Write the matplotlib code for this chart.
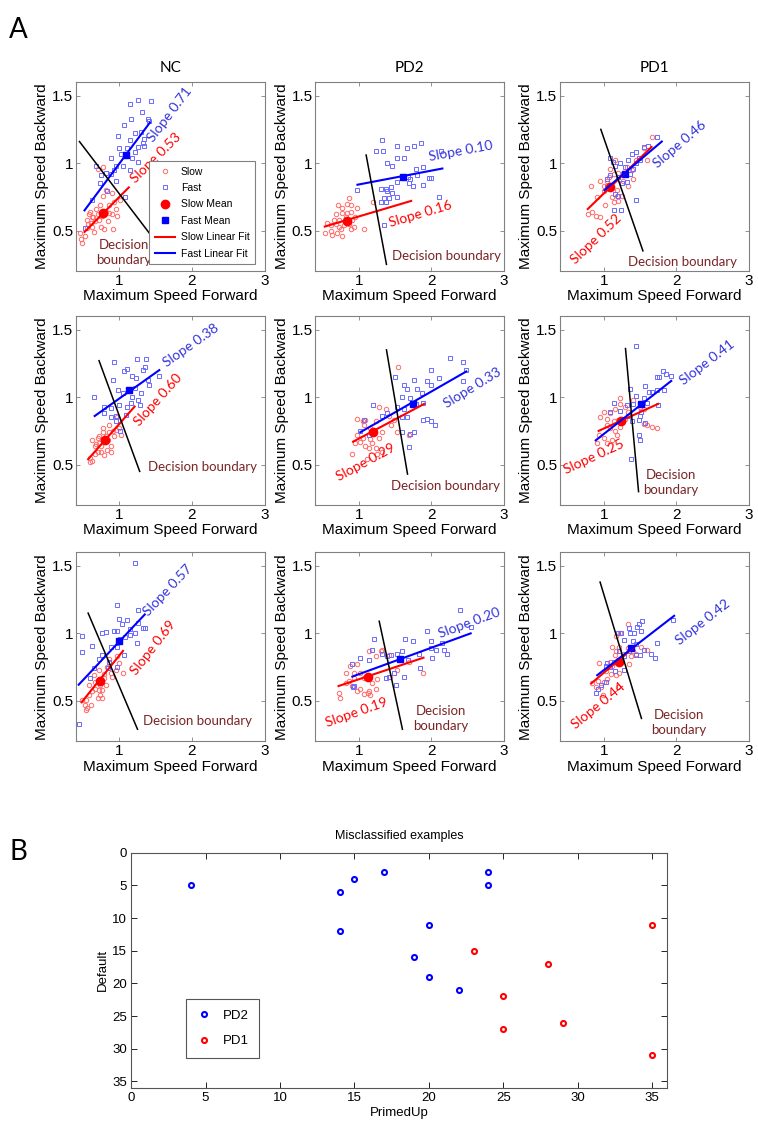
import numpy as np
import matplotlib
matplotlib.use('Agg')
import matplotlib.pyplot as plt

# ---------------- panel A data (row-major: NC, PD2, PD1 per row) ----------------
groups = ['NC', 'PD2', 'PD1']

slow_pts = [
    [(0.47,0.44),(0.49,0.41),(0.52,0.46),(0.46,0.48),(0.55,0.52),(0.57,0.55),(0.61,0.56),(0.63,0.60),(0.62,0.53),(0.65,0.49),
     (0.67,0.57),(0.72,0.58),(0.76,0.61),(0.81,0.64),(0.86,0.63),(0.90,0.62),(0.97,0.61),(0.91,0.51),(0.79,0.51),(0.70,0.62),
     (0.58,0.62),(0.64,0.60),(0.73,0.69),(0.78,0.76),(0.82,0.80),(0.86,0.69),(0.92,0.71),(1.01,0.73),(0.90,0.78),(0.77,0.97),
     (0.70,0.96),(0.55,0.58),(0.60,0.64),(0.68,0.66),(0.84,0.57),(0.75,0.53),(0.95,0.66)],
    [(0.53,0.48),(0.61,0.50),(0.63,0.47),(0.70,0.48),(0.75,0.51),(0.79,0.54),(0.86,0.55),(0.89,0.51),(0.93,0.53),(0.68,0.55),
     (0.72,0.58),(0.82,0.60),(0.89,0.64),(0.98,0.67),(0.84,0.70),(0.69,0.62),(0.66,0.58),(0.77,0.67),(0.86,0.74),(0.71,0.69),
     (0.89,0.69),(1.07,0.51),(1.20,0.71),(0.56,0.56),(0.61,0.54),(0.77,0.46),(0.95,0.60),(0.84,0.63),(0.77,0.63),(0.91,0.58),
     (0.72,0.53)],
    [(0.78,0.62),(0.84,0.64),(0.89,0.61),(0.95,0.60),(0.83,0.83),(0.95,0.87),(1.00,0.83),(1.07,0.90),(1.14,0.92),(1.16,1.02),
     (1.09,0.96),(1.02,0.69),(1.14,0.71),(1.20,0.72),(1.25,0.76),(1.34,0.83),(1.41,0.88),(1.39,0.95),(1.45,1.02),(1.55,1.11),
     (1.66,1.19),(1.59,1.02),(1.00,0.79),(0.91,0.75),(1.18,0.80),(1.27,0.87),(1.05,0.87),(1.20,0.93),(1.32,0.97),(1.11,0.75),
     (1.18,0.76)],
    [(0.59,0.55),(0.63,0.53),(0.60,0.52),(0.66,0.58),(0.70,0.59),(0.75,0.64),(0.68,0.65),(0.63,0.68),(0.72,0.71),(0.78,0.74),
     (0.82,0.71),(0.86,0.74),(0.91,0.75),(0.95,0.76),(1.00,0.77),(0.89,0.59),(0.83,0.61),(0.75,0.59),(0.79,0.57),(0.70,0.70),
     (0.78,0.69),(0.84,0.68),(0.86,0.79),(0.77,0.77),(0.93,0.71),(0.97,0.85),(1.02,0.72),(0.66,0.64),(0.72,0.66),(0.89,0.64)],
    [(0.91,0.58),(0.98,0.72),(1.05,0.70),(0.95,0.66),(1.02,0.67),(1.09,0.64),(1.14,0.62),(1.18,0.66),(1.23,0.62),(1.25,0.58),
     (1.11,0.54),(1.32,0.59),(0.98,0.84),(1.05,0.82),(1.09,0.83),(1.07,0.79),(1.16,0.77),(1.28,0.93),(1.37,0.91),(1.41,0.86),
     (1.48,0.83),(1.53,0.74),(1.54,1.22),(1.69,0.72),(1.32,0.74),(1.23,0.82),(1.44,0.79),(1.16,0.69),(1.28,0.70)],
    [(0.95,0.85),(1.00,0.89),(1.05,0.84),(1.09,0.88),(1.16,0.91),(1.23,0.95),(1.30,0.93),(1.34,0.89),(1.23,0.99),(1.41,0.98),
     (1.50,0.93),(1.55,0.91),(0.93,0.72),(1.00,0.70),(1.05,0.66),(1.11,0.68),(1.18,0.72),(1.23,0.78),(1.09,0.77),(1.16,0.75),
     (1.30,0.84),(1.20,0.83),(1.59,0.79),(1.66,0.78),(1.73,0.77),(1.55,0.80),(1.14,0.82),(1.05,0.79),(0.91,0.66)],
    [(0.49,0.51),(0.52,0.47),(0.54,0.43),(0.56,0.45),(0.61,0.47),(0.54,0.51),(0.58,0.54),(0.63,0.57),(0.67,0.59),(0.72,0.58),
     (0.76,0.58),(0.74,0.54),(0.70,0.52),(0.76,0.52),(0.67,0.64),(0.65,0.69),(0.72,0.73),(0.79,0.70),(0.83,0.75),(0.88,0.71),
     (0.95,0.73),(0.99,0.78),(1.05,0.71),(0.81,0.62),(0.90,0.68),(0.86,0.81),(0.97,0.83),(0.79,0.67),(0.58,0.62),(0.74,0.62)],
    [(0.72,0.56),(0.74,0.52),(0.82,0.63),(0.86,0.65),(0.82,0.71),(0.88,0.76),(0.93,0.71),(0.98,0.57),(1.02,0.59),(1.07,0.55),
     (1.12,0.56),(1.14,0.57),(1.16,0.54),(1.23,0.59),(1.18,0.63),(1.25,0.66),(1.07,0.67),(0.98,0.77),(1.02,0.71),(1.14,0.87),
     (1.23,0.83),(1.30,0.87),(1.32,0.88),(1.41,0.84),(1.43,0.68),(1.53,0.73),(1.69,0.79),(1.88,0.71),(0.91,0.61),(0.93,0.67)],
    [(0.84,0.63),(0.90,0.60),(0.94,0.78),(0.92,0.65),(0.96,0.60),(1.01,0.64),(1.05,0.66),(1.10,0.70),(1.17,0.69),(1.21,0.71),
     (0.99,0.54),(1.03,0.72),(1.12,0.76),(1.08,0.79),(1.15,0.84),(1.17,0.87),(1.21,0.90),(1.12,0.90),(1.17,0.98),(1.23,1.00),
     (1.33,1.07),(1.27,0.85),(1.33,0.89),(1.37,0.83),(1.40,0.87),(1.44,0.85),(1.51,0.90),(1.60,0.88),(1.35,0.77),(1.24,0.81),
     (1.19,0.60)],
]

fast_pts = [
    [(1.26,1.47),(1.44,1.46),(1.14,1.44),(1.31,1.38),(1.41,1.31),(1.16,1.33),(1.07,1.28),(1.30,1.23),(1.21,1.22),(0.98,1.20),
     (1.34,1.18),(1.00,1.11),(1.11,1.11),(1.25,1.12),(1.34,1.13),(1.02,1.07),(1.18,1.04),(0.89,1.04),(0.95,0.98),(1.05,0.98),
     (1.14,0.95),(1.25,1.01),(0.68,0.98),(0.82,0.93),(0.74,0.85),(0.83,0.79),(0.95,0.87),(1.08,0.75),(0.52,0.52),(0.63,0.73),
     (0.88,0.92),(0.93,0.95),(0.75,0.91),(1.32,1.15),(1.39,1.33),(1.14,1.17),(1.21,1.08)],
    [(1.32,1.17),(1.23,1.09),(1.33,1.09),(1.53,1.13),(1.66,1.11),(1.76,1.13),(1.86,1.15),(1.62,1.04),(1.39,1.00),(1.46,0.98),
     (1.78,0.96),(1.89,0.97),(1.80,0.91),(1.96,0.89),(2.00,0.89),(1.89,0.84),(1.74,0.83),(1.69,0.85),(1.53,0.86),(1.44,0.82),
     (1.37,0.81),(1.30,0.81),(0.98,0.80),(1.39,0.79),(1.46,0.78),(1.53,0.75),(1.41,0.74),(1.34,0.74),(1.38,0.71),(1.31,0.71),
     (2.10,0.75),(1.34,0.54),(1.67,0.90),(1.71,0.88),(1.60,0.90),(2.13,1.09),(1.53,1.04)],
    [(1.09,1.04),(1.13,1.01),(1.16,0.98),(1.23,1.00),(1.34,1.02),(1.39,1.07),(1.45,1.08),(1.48,1.04),(1.55,1.12),(1.61,1.13),
     (1.74,1.19),(1.04,0.88),(1.09,0.91),(1.20,0.90),(1.27,0.92),(1.36,0.92),(1.45,1.00),(1.16,0.77),(1.20,0.76),(1.14,0.65),
     (1.24,0.65),(1.45,0.73),(1.25,0.85),(1.32,0.86),(1.05,0.82),(1.41,0.96),(1.50,1.02),(1.30,0.97)],
    [(0.65,1.00),(0.92,1.26),(1.07,1.19),(1.10,1.21),(1.24,1.28),(1.37,1.28),(1.32,1.20),(1.35,1.22),(1.18,1.16),(1.23,1.14),
     (1.39,1.13),(1.41,1.09),(0.91,1.13),(1.55,1.16),(0.98,1.05),(1.05,1.03),(1.18,1.00),(1.25,0.98),(1.16,0.96),(1.11,0.93),
     (1.00,0.94),(0.88,0.92),(0.95,0.86),(0.89,0.85),(0.79,0.93),(0.79,0.88),(1.09,0.87),(1.01,0.75),(0.95,0.82),(1.30,1.03),
     (1.21,1.07),(1.28,0.94)],
    [(2.25,1.29),(2.44,1.26),(2.48,1.20),(2.00,1.20),(2.11,1.14),(1.94,1.12),(2.00,1.09),(1.76,1.13),(1.62,1.09),(1.50,1.15),
     (1.66,1.06),(1.80,1.06),(1.87,1.03),(1.89,0.96),(1.79,0.95),(1.70,0.99),(1.60,1.00),(1.53,0.93),(1.62,0.91),(1.66,0.85),
     (1.59,0.85),(1.89,0.83),(1.94,0.84),(2.00,0.82),(2.05,0.79),(1.69,0.63),(1.60,0.74),(1.71,0.73),(1.76,0.74),(1.32,0.86),
     (1.39,0.88),(1.07,0.83),(1.02,0.75),(1.14,0.72),(1.20,0.94),(2.44,1.12)],
    [(1.45,1.38),(1.73,1.15),(1.76,1.15),(1.82,1.19),(1.86,1.17),(1.93,1.16),(1.57,1.08),(1.63,1.04),(1.66,1.04),(1.73,1.05),
     (1.83,1.05),(1.36,1.06),(1.45,1.01),(1.55,0.99),(1.59,0.96),(1.75,0.94),(1.41,0.95),(1.50,0.86),(1.52,0.89),(1.32,0.94),
     (1.14,0.96),(1.23,0.90),(1.48,0.72),(1.50,0.68),(1.37,0.54),(1.57,0.81),(1.09,0.89),(1.34,0.86),(1.39,0.82),(1.48,0.83)],
    [(0.44,0.33),(1.22,1.52),(0.97,1.21),(0.48,0.98),(0.49,0.86),(0.63,0.91),(0.76,1.00),(0.81,1.01),(0.92,1.02),(0.97,1.02),
     (0.99,1.11),(1.04,1.07),(1.10,1.10),(1.15,1.03),(1.22,1.00),(1.26,1.17),(1.26,1.08),(1.32,1.04),(1.36,1.04),(1.24,0.93),
     (1.08,0.97),(1.01,0.96),(0.97,0.90),(0.88,0.90),(0.76,0.84),(0.72,0.81),(0.86,0.79),(0.97,0.75),(0.85,0.74),(1.06,0.84),
     (0.65,0.74),(0.59,0.67),(1.15,0.99)],
    [(2.39,1.17),(2.55,1.05),(1.94,1.02),(1.99,0.94),(2.00,0.89),(2.06,0.88),(2.17,0.88),(2.14,0.93),(2.21,0.85),(2.01,0.82),
     (1.83,0.85),(1.75,0.94),(1.63,0.96),(1.60,0.87),(1.44,0.84),(1.39,0.83),(1.32,0.85),(1.21,0.96),(1.18,0.88),(1.14,0.80),
     (1.02,0.82),(0.91,0.77),(0.93,0.61),(0.92,0.60),(1.41,0.68),(1.48,0.71),(1.51,0.62),(1.62,0.68),(1.37,0.67),(1.84,0.74),
     (1.67,0.80),(1.53,0.85)],
    [(0.90,0.56),(0.92,0.59),(0.96,0.62),(1.03,0.76),(1.08,0.75),(1.05,0.78),(1.14,0.79),(1.15,0.72),(1.20,1.00),(1.24,1.00),
     (1.28,0.95),(1.28,0.83),(1.35,1.04),(1.36,1.00),(1.42,1.00),(1.46,1.05),(1.49,1.07),(1.53,1.09),(1.51,1.02),(1.40,0.94),
     (1.44,0.92),(1.55,0.88),(1.65,0.85),(1.71,0.82),(1.74,0.93),(1.50,0.84),(1.44,0.84),(1.35,0.87),(1.28,0.73),(1.21,0.87),
     (1.96,1.10),(1.03,0.64)],
]

slow_mean = [(0.77,0.63),(0.83,0.57),(1.09,0.82),(0.80,0.68),(1.20,0.74),(1.24,0.82),(0.73,0.65),(1.12,0.68),(1.21,0.79)]
fast_mean = [(1.09,1.06),(1.61,0.90),(1.30,0.92),(1.13,1.05),(1.75,0.95),(1.52,0.95),(0.99,0.94),(1.56,0.81),(1.37,0.89)]

# fit line end points (x0, y0, x1, y1)
slow_fit = [(0.52,0.49,1.13,0.82),(0.53,0.53,1.72,0.72),(0.78,0.66,1.66,1.12),(0.57,0.54,1.21,0.93),(0.92,0.67,1.90,0.95),
            (0.93,0.75,1.75,0.95),(0.48,0.49,1.05,0.87),(0.72,0.61,1.89,0.82),(0.83,0.63,1.42,0.90)]
fast_fit = [(0.52,0.65,1.42,1.30),(0.98,0.84,2.15,0.96),(1.01,0.80,1.80,1.16),(0.66,0.86,1.55,1.20),(1.02,0.74,2.48,1.19),
            (0.89,0.68,1.93,1.12),(0.44,0.62,1.35,1.14),(0.91,0.68,2.54,1.00),(0.91,0.69,1.97,1.13)]
boundary = [(0.45,1.16,1.50,0.42),(1.10,1.06,1.38,0.25),(0.96,1.25,1.54,0.35),(0.72,1.27,1.28,0.45),(1.38,1.35,1.67,0.43),
            (1.30,1.36,1.48,0.30),(0.57,1.15,1.25,0.29),(1.28,1.09,1.60,0.29),(0.95,1.38,1.52,0.37)]

slow_slope = [0.53, 0.16, 0.52, 0.60, 0.29, 0.25, 0.69, 0.19, 0.44]
fast_slope = [0.71, 0.10, 0.46, 0.38, 0.33, 0.41, 0.57, 0.20, 0.42]

# annotation placement
slow_lbl = [(1.50,1.04),(1.85,0.62),(0.89,0.44),(1.53,0.98),(1.09,0.52),(0.86,0.56),(1.47,0.89),(0.97,0.41),(0.92,0.46)]
fast_lbl = [(1.69,1.36),(2.40,1.09),(2.05,1.14),(1.99,1.38),(2.56,1.07),(2.43,1.26),(1.67,1.32),(2.52,1.08),(2.37,1.08)]
db_lbl = [(1.06,0.34),(2.21,0.31),(2.09,0.27),(2.15,0.48),(2.19,0.34),(1.93,0.37),(2.08,0.35),(2.13,0.37),(2.03,0.34)]
db_two = [True, False, False, False, False, True, False, True, True]

# ---------------- panel B data ----------------
pd2_x = [4, 14, 14, 15, 17, 19, 20, 20, 22, 24, 24]
pd2_y = [5, 6, 12, 4, 3, 16, 11, 19, 21, 3, 5]
pd1_x = [23, 25, 25, 28, 29, 35, 35]
pd1_y = [15, 22, 27, 17, 26, 11, 31]

arial = ['Liberation Sans', 'DejaVu Sans']
calibri = ['Lato', 'DejaVu Sans']
narrow = ['Liberation Sans Narrow', 'Liberation Sans', 'DejaVu Sans']
red = '#ff0000'
blue = '#0000ff'
light_red = '#ff6a6a'
light_blue = '#6a6aff'
db_color = '#7a2525'
spine = '#808080'

fig = plt.figure(figsize=(7.58, 11.25), dpi=100)

col_left = [0.100, 0.416, 0.739]
row_bot = [0.759, 0.551, 0.341]
w, h = 0.249, 0.168

for i in range(9):
    r, c = divmod(i, 3)
    ax = fig.add_axes([col_left[c], row_bot[r], w, h])
    sx, sy = zip(*slow_pts[i])
    fx, fy = zip(*fast_pts[i])
    ax.plot(sx, sy, 'o', ms=3.2, mfc='none', mec=light_red, mew=0.7, label='Slow')
    ax.plot(fx, fy, 's', ms=3.2, mfc='none', mec=light_blue, mew=0.7, label='Fast')
    ax.plot(*slow_mean[i], 'o', ms=6, color=red, label='Slow Mean')
    ax.plot(*fast_mean[i], 's', ms=5, color=blue, label='Fast Mean')
    x0, y0, x1, y1 = slow_fit[i]
    ax.plot([x0, x1], [y0, y1], '-', color=red, lw=1.5, label='Slow Linear Fit')
    x0, y0, x1, y1 = fast_fit[i]
    ax.plot([x0, x1], [y0, y1], '-', color=blue, lw=1.5, label='Fast Linear Fit')
    x0, y0, x1, y1 = boundary[i]
    ax.plot([x0, x1], [y0, y1], '-', color='black', lw=1.1)

    ax.text(*slow_lbl[i], 'Slope %.2f' % slow_slope[i], color=red, fontsize=10, family=calibri,
            rotation=np.degrees(np.arctan(slow_slope[i])), transform_rotates_text=True,
            rotation_mode='anchor', ha='center', va='center')
    ax.text(*fast_lbl[i], 'Slope %.2f' % fast_slope[i], color='#3333dd', fontsize=10, family=calibri,
            rotation=np.degrees(np.arctan(fast_slope[i])), transform_rotates_text=True,
            rotation_mode='anchor', ha='center', va='center')
    ax.text(*db_lbl[i], 'Decision\nboundary' if db_two[i] else 'Decision boundary', color=db_color,
            fontsize=9.5, family=calibri, ha='center', va='center', linespacing=1.3)

    ax.set_xlim(0.4, 3)
    ax.set_ylim(0.2, 1.6)
    ax.set_xticks([1, 2, 3])
    ax.set_yticks([0.5, 1, 1.5])
    ax.set_yticklabels(['0.5', '1', '1.5'])
    ax.tick_params(direction='in', top=True, right=True, length=3, width=0.6, color=spine,
                   labelsize=11, pad=2)
    for lab in ax.get_xticklabels() + ax.get_yticklabels():
        lab.set_family(arial)
    for s in ax.spines.values():
        s.set_color(spine)
        s.set_linewidth(0.8)
    ax.set_xlabel('Maximum Speed Forward', fontsize=11, family=arial, labelpad=1)
    ax.set_ylabel('Maximum Speed Backward', fontsize=11, family=arial, labelpad=2)
    if r == 0:
        ax.set_title(groups[c], fontsize=11, family=calibri, pad=7)
    if i == 0:
        leg = ax.legend(loc='lower right', bbox_to_anchor=(0.975, 0.01),
                        prop={'family': arial, 'size': 7.5}, fancybox=False, edgecolor=spine,
                        handlelength=2.0, labelspacing=0.62, borderpad=0.5, handletextpad=0.5,
                        framealpha=1)
        leg.get_frame().set_linewidth(0.8)

fig.text(0.012, 0.985, 'A', fontsize=20, family=calibri, va='top')
fig.text(0.012, 0.254, 'B', fontsize=20, family=calibri, va='top')

# ---------------- panel B ----------------
axb = fig.add_axes([0.173, 0.033, 0.707, 0.209])
axb.plot(pd2_x, pd2_y, 'o', ms=3.6, mfc='none', mec=blue, mew=1.5, label='PD2')
axb.plot(pd1_x, pd1_y, 'o', ms=3.6, mfc='none', mec=red, mew=1.5, label='PD1')
axb.set_xlim(0, 36)
axb.set_ylim(36, 0)
axb.set_xticks(range(0, 40, 5))
axb.set_yticks(range(0, 40, 5))
axb.tick_params(direction='in', top=True, right=True, length=4, width=0.6, labelsize=9.5, pad=3)
for lab in axb.get_xticklabels() + axb.get_yticklabels():
    lab.set_family(narrow)
for s in axb.spines.values():
    s.set_color('#555555')
    s.set_linewidth(0.8)
axb.set_title('Misclassified examples', fontsize=9, family=narrow, pad=10)
axb.set_xlabel('PrimedUp', fontsize=9.5, family=narrow, labelpad=2)
axb.set_ylabel('Default', fontsize=9.5, family=narrow, labelpad=2)
legb = axb.legend(loc='lower left', bbox_to_anchor=(0.09, 0.1), prop={'family': narrow, 'size': 9.5},
                  fancybox=False, edgecolor='#555555', handlelength=1.2, labelspacing=1.0,
                  borderpad=0.8, handletextpad=0.8, framealpha=1)
legb.get_frame().set_linewidth(0.8)

fig.savefig('out.png', dpi=100)
